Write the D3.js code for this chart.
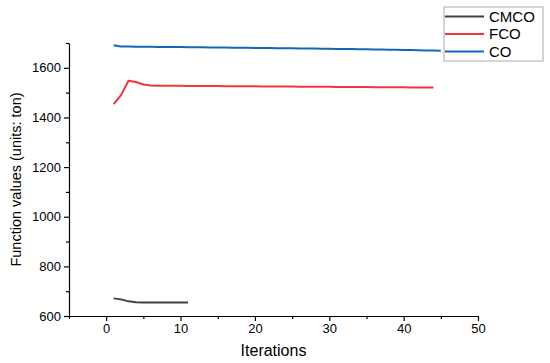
<!DOCTYPE html>
<html>
  <head>
    <meta charset="utf-8" />
    <style>
      body {
        margin: 0;
        background: #fff;
      }
      svg text {
        font-family: "Liberation Sans", Arial, sans-serif;
      }
    </style>
    <script src="https://d3js.org/d3.v7.min.js"></script>
  </head>
  <body>
    <div id="chart"></div>
    <script type="text/javascript">
      // data
      var seriesNames = ["CMCO", "FCO", "CO"];
      var seriesColors = ["#404040", "#f5333f", "#1368b5"];

      var cmco = [671, 667, 659, 655, 654, 654, 654, 654, 654, 654, 654];

      var fco = [
        1454, 1490, 1548, 1543, 1533, 1529, 1528, 1528, 1528, 1528,
        1527, 1527, 1527, 1527, 1527, 1526, 1526, 1526, 1526, 1526,
        1525, 1525, 1525, 1525, 1525, 1524, 1524, 1524, 1524, 1524,
        1523, 1523, 1523, 1523, 1523, 1522, 1522, 1522, 1522, 1522,
        1521, 1521, 1521, 1521
      ];

      var co = [
        1691, 1686, 1686, 1685, 1685, 1685, 1684, 1684, 1684, 1684,
        1683, 1683, 1683, 1682, 1682, 1682, 1681, 1681, 1681, 1680,
        1680, 1680, 1679, 1679, 1679, 1678, 1678, 1678, 1677, 1677,
        1676, 1676, 1676, 1675, 1675, 1674, 1674, 1673, 1673, 1672,
        1672, 1671, 1670, 1670, 1669
      ];

      var xTicks = [0, 10, 20, 30, 40, 50];
      var yTicks = [600, 800, 1000, 1200, 1400, 1600];

      var w = 550;
      var h = 363;
      var margin = { left: 69, right: 72, top: 43, bottom: 47 };

      var svg = d3
        .select("#chart")
        .append("svg")
        .attr("width", w)
        .attr("height", h);

      var x = d3
        .scaleLinear()
        .domain([-5, 50])
        .range([margin.left, w - margin.right]);

      var y = d3
        .scaleLinear()
        .domain([600, 1700])
        .range([h - margin.bottom, margin.top]);

      // minor ticks first
      svg
        .append("g")
        .attr("transform", "translate(0," + y(600) + ")")
        .call(
          d3.axisBottom(x).tickValues([-5, 5, 15, 25, 35, 45]).tickSize(3).tickFormat("")
        )
        .call(function (g) {
          g.select(".domain").remove();
        });

      svg
        .append("g")
        .attr("transform", "translate(" + x(-5) + ",0)")
        .call(
          d3.axisLeft(y).tickValues([700, 900, 1100, 1300, 1500, 1700]).tickSize(3).tickFormat("")
        )
        .call(function (g) {
          g.select(".domain").remove();
        });

      // major axes
      svg
        .append("g")
        .attr("transform", "translate(0," + y(600) + ")")
        .call(
          d3.axisBottom(x).tickValues(xTicks).tickFormat(d3.format("d"))
            .tickSize(5).tickSizeOuter(0).tickPadding(3)
        );

      svg
        .append("g")
        .attr("transform", "translate(" + x(-5) + ",0)")
        .call(
          d3.axisLeft(y).tickValues(yTicks).tickFormat(d3.format("d"))
            .tickSize(5).tickSizeOuter(0).tickPadding(3)
        );

      svg.selectAll(".domain, .tick line").attr("stroke", "#000").attr("stroke-width", 1.2);
      svg
        .selectAll(".tick text")
        .attr("font-family", "Liberation Sans, Arial, sans-serif")
        .attr("font-size", 13)
        .attr("fill", "#000");

      // axis titles
      svg
        .append("text")
        .attr("x", x(22.5))
        .attr("y", 356)
        .attr("text-anchor", "middle")
        .attr("font-size", 16)
        .text("Iterations");

      svg
        .append("text")
        .attr("transform", "translate(21," + y(1150) + ")rotate(-90)")
        .attr("text-anchor", "middle")
        .attr("font-size", 14.5)
        .text("Function values (units: ton)");

      // lines
      var line = d3
        .line()
        .x(function (d, i) {
          return x(i + 1);
        })
        .y(function (d) {
          return y(d);
        });

      var allSeries = [cmco, fco, co];

      svg
        .selectAll("path.series")
        .data(allSeries)
        .enter()
        .append("path")
        .attr("class", "series")
        .attr("fill", "none")
        .attr("stroke", function (d, i) {
          return seriesColors[i];
        })
        .attr("stroke-width", 2)
        .attr("stroke-linejoin", "round")
        .attr("d", line);

      // legend
      var legend = svg.append("g").attr("transform", "translate(444,7)");

      legend
        .append("rect")
        .attr("width", 99)
        .attr("height", 54)
        .attr("fill", "#fff")
        .attr("stroke", "#aaa")
        .attr("stroke-width", 1);

      var items = legend
        .selectAll("g.item")
        .data(seriesNames)
        .enter()
        .append("g")
        .attr("class", "item")
        .attr("transform", function (d, i) {
          return "translate(0," + (9.5 + i * 17.5) + ")";
        });

      items
        .append("line")
        .attr("x1", 1)
        .attr("x2", 40)
        .attr("stroke", function (d, i) {
          return seriesColors[i];
        })
        .attr("stroke-width", 2);

      items
        .append("text")
        .attr("x", 45)
        .attr("dy", "0.36em")
        .attr("font-size", 15)
        .text(function (d) {
          return d;
        });
    </script>
  </body>
</html>
